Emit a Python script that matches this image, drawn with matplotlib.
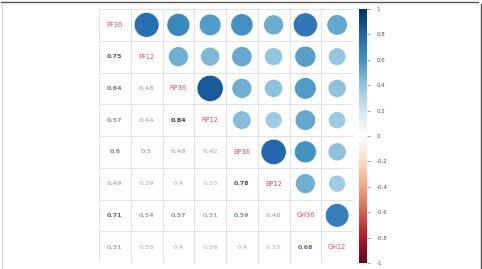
import numpy as np
import matplotlib
matplotlib.use("Agg")
import matplotlib.pyplot as plt
from matplotlib.colors import LinearSegmentedColormap, Normalize
from matplotlib.patches import Circle
import matplotlib.cm as cm

variables = ["PF36", "PF12", "RP36", "RP12", "BP36", "BP12", "GH36", "GH12"]
lower_rows = [
    [],
    [0.75],
    [0.64, 0.48],
    [0.57, 0.44, 0.84],
    [0.60, 0.50, 0.48, 0.42],
    [0.49, 0.39, 0.40, 0.35, 0.78],
    [0.71, 0.54, 0.57, 0.51, 0.59, 0.48],
    [0.51, 0.38, 0.40, 0.36, 0.40, 0.35, 0.68],
]
lower_labels = [
    [],
    ["0.75"],
    ["0.64", "0.48"],
    ["0.57", "0.44", "0.84"],
    ["0.6", "0.5", "0.48", "0.42"],
    ["0.49", "0.39", "0.4", "0.35", "0.78"],
    ["0.71", "0.54", "0.57", "0.51", "0.59", "0.48"],
    ["0.51", "0.38", "0.4", "0.36", "0.4", "0.35", "0.68"],
]
cbar_ticks = [-1, -0.8, -0.6, -0.4, -0.2, 0, 0.2, 0.4, 0.6, 0.8, 1]
cbar_labels = ["-1", "-0.8", "-0.6", "-0.4", "-0.2", "0", "0.2", "0.4", "0.6", "0.8", "1"]

n = len(variables)
corr = np.eye(n)
for i, row in enumerate(lower_rows):
    for j, v in enumerate(row):
        corr[i, j] = v
        corr[j, i] = v

cmap = LinearSegmentedColormap.from_list(
    "corrRdBu",
    ["#67001F", "#B2182B", "#D6604D", "#F4A582", "#FDDBC7", "#FFFFFF",
     "#D1E5F0", "#92C5DE", "#4393C3", "#2166AC", "#053061"], N=200)
norm = Normalize(-1, 1)

# muted palette for the printed coefficients
num_cmap = LinearSegmentedColormap.from_list(
    "num", [(0.0, "#C6D8E0"), (0.3, "#A6C2CF"), (0.55, "#5F8CA3"), (1.0, "#2A3A52")])
num_norm = Normalize(0.33, 0.86)

W, H = 482, 269
fig = plt.figure(figsize=(W / 100, H / 100), dpi=100)

ax = fig.add_axes([99 / W, (H - 263) / H, 254 / W, 254 / H])
ax.set_xlim(0, n)
ax.set_ylim(n, 0)
ax.axis("off")

grid_col = "#E3E3E3"
for k in range(n + 1):
    ax.plot([k, k], [0, n], color=grid_col, lw=0.8, zorder=1)
    ax.plot([0, n], [k, k], color=grid_col, lw=0.8, zorder=1)

for i in range(n):
    for j in range(n):
        cx, cy = j + 0.5, i + 0.5
        if i == j:
            ax.text(cx, cy, variables[i], ha="center", va="center",
                    fontsize=4.8, color="#D4506A")
        elif j > i:
            r = corr[i, j]
            rad = 0.9 * np.sqrt(abs(r)) / 2
            ax.add_patch(Circle((cx, cy), rad, facecolor=cmap(norm(r)),
                                edgecolor="white", lw=0.4, zorder=2))
        else:
            r = corr[i, j]
            ax.text(cx, cy, lower_labels[i][j], ha="center", va="center",
                    fontsize=4.6, fontweight="bold", color=num_cmap(num_norm(r)))

cax = fig.add_axes([359 / W, (H - 263) / H, 8 / W, 254 / H])
sm = cm.ScalarMappable(norm=norm, cmap=cmap)
cb = fig.colorbar(sm, cax=cax, ticks=cbar_ticks)
cb.set_ticklabels(cbar_labels)
cb.outline.set_visible(False)
cax.tick_params(labelsize=4, colors="#555555", length=2, width=0.4, pad=5)
for t in cax.get_yticklabels():
    t.set_color("#555555")

# outer frame
fig.add_artist(plt.Line2D([1 / W, 478 / W], [1 - 1.5 / H, 1 - 1.5 / H],
                          transform=fig.transFigure, color="#555555", lw=1.0))
fig.add_artist(plt.Line2D([480.5 / W, 480.5 / W], [0, 1 - 4 / H],
                          transform=fig.transFigure, color="#555555", lw=1.0))
fig.add_artist(plt.Line2D([1.5 / W, 1.5 / W], [0, 1 - 4 / H],
                          transform=fig.transFigure, color="#DDDDDD", lw=0.8))

fig.savefig("out.png", dpi=100)
